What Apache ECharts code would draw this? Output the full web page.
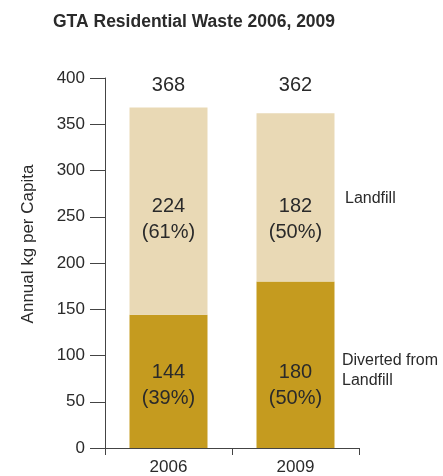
<!DOCTYPE html>
<html>
<head>
<meta charset="utf-8">
<script src="https://cdn.jsdelivr.net/npm/echarts@6/dist/echarts.min.js"></script>
<style>
  html, body { margin: 0; padding: 0; background: #fff; }
  #chart { width: 443px; height: 476px; }
</style>
</head>
<body>
<div id="chart"></div>
<script>
// Residential waste per capita, split into diverted and landfilled tonnage
const years = ['2006', '2009'];
const diverted = [144, 180];
const landfill = [224, 182];
const divertedPct = ['39%', '50%'];
const landfillPct = ['61%', '50%'];
const totals = [368, 362];

const yMax = 400;
const gridTop = 78, gridBottom = 28;
const chartHeight = 476;
const pxPerUnit = (chartHeight - gridTop - gridBottom) / yMax;

// labels of the same kind share one level across both bars
const landfillLabelLevel = 247;
const totalLabelLevel = 392;

const FONT = 'Liberation Sans';
const TEXT = '#2a2a2a';

const chart = echarts.init(document.getElementById('chart'));

chart.setOption({
  animation: false,
  title: {
    text: 'GTA Residential Waste 2006, 2009',
    left: 48, top: 8,
    textStyle: { fontFamily: FONT, fontSize: 17.5, fontWeight: 'bold', color: TEXT }
  },
  grid: { left: 105, right: 84, top: gridTop, bottom: gridBottom },
  xAxis: {
    type: 'category',
    data: years,
    axisLine: { lineStyle: { color: '#444', width: 1 } },
    axisTick: { show: true, length: 7, lineStyle: { color: '#444' } },
    axisLabel: { fontFamily: FONT, fontSize: 17, color: TEXT, margin: 11 }
  },
  yAxis: {
    type: 'value',
    min: 0, max: yMax, interval: 50,
    name: 'Annual kg per Capita',
    nameLocation: 'middle',
    nameGap: 68,
    nameTextStyle: { fontFamily: FONT, fontSize: 17, color: TEXT, padding: [0, 0, 0, 38] },
    axisLine: { show: true, lineStyle: { color: '#444', width: 1 } },
    axisTick: { show: true, inside: false, length: 15, lineStyle: { color: '#444' } },
    axisLabel: { fontFamily: FONT, fontSize: 17, color: TEXT, margin: 20 },
    splitLine: { show: false }
  },
  series: [
    {
      name: 'Diverted from Landfill',
      type: 'bar',
      stack: 'waste',
      barWidth: 78,
      data: diverted,
      itemStyle: { color: '#C59B1F' },
      label: {
        show: true,
        position: 'insideBottom',
        distance: 37,
        fontFamily: FONT, fontSize: 20, lineHeight: 26, color: TEXT,
        formatter: p => p.value + '\n(' + divertedPct[p.dataIndex] + ')'
      }
    },
    {
      name: 'Landfill',
      type: 'bar',
      stack: 'waste',
      barWidth: 78,
      data: landfill.map((v, i) => {
        const mid = diverted[i] + v / 2;
        return {
          value: v,
          label: { offset: [0, (mid - landfillLabelLevel) * pxPerUnit] }
        };
      }),
      itemStyle: { color: '#E9D9B5' },
      label: {
        show: true,
        position: 'inside',
        fontFamily: FONT, fontSize: 20, lineHeight: 26, color: TEXT,
        formatter: p => p.value + '\n(' + landfillPct[p.dataIndex] + ')'
      }
    },
    {
      name: 'Total',
      type: 'bar',
      stack: 'waste',
      barWidth: 78,
      data: totals.map(t => ({
        value: 0,
        label: { offset: [0, (t - totalLabelLevel) * pxPerUnit] }
      })),
      itemStyle: { color: 'transparent' },
      label: {
        show: true,
        position: 'inside',
        fontFamily: FONT, fontSize: 20, color: TEXT,
        formatter: p => String(totals[p.dataIndex])
      }
    }
  ],
  graphic: [
    {
      type: 'text', left: 345, top: 191,
      style: { text: 'Landfill', font: '16px "Liberation Sans"', fill: TEXT }
    },
    {
      type: 'text', left: 342, top: 351,
      style: { text: 'Diverted from\nLandfill', font: '16px "Liberation Sans"', lineHeight: 20, fill: TEXT }
    }
  ]
});
</script>
</body>
</html>
